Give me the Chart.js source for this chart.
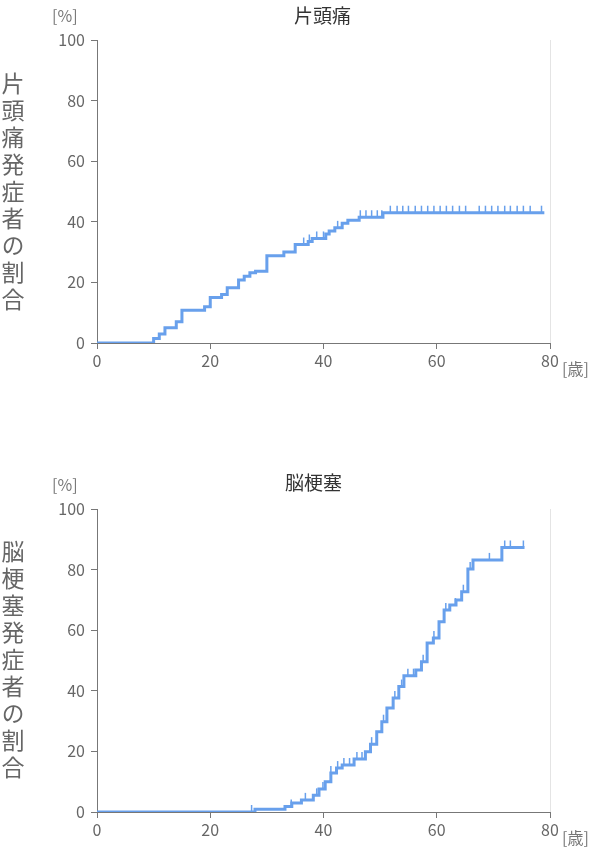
<!DOCTYPE html>
<html>
<head>
<meta charset="utf-8">
<script src="https://cdn.jsdelivr.net/npm/chart.js@4"></script>
<style>
  body { margin: 0; width: 600px; height: 848px; background: #fff; position: relative; font-family: "Noto Sans CJK JP", "Noto Sans", sans-serif; color: #666; }
  .box { position: absolute; left: 0; width: 600px; height: 424px; }
  .t { position: absolute; font-size: 19px; color: #333; }
  .u { position: absolute; font-size: 16px; color: #777; }
  .v { position: absolute; writing-mode: vertical-rl; font-size: 23px; color: #666; letter-spacing: 4px; line-height: 1; }
</style>
</head>
<body>
<div class="box" style="top:0"><canvas id="c1" width="600" height="424"></canvas></div>
<div class="box" style="top:424px"><canvas id="c2" width="600" height="424"></canvas></div>

<div class="t" style="left:294px;top:1px">片頭痛</div>
<div class="u" style="left:52px;top:3px">[%]</div>
<div class="v" style="left:1px;top:72px">片頭痛発症者の割合</div>
<div class="u" style="left:562px;top:356px">[歳]</div>

<div class="t" style="left:285px;top:468px">脳梗塞</div>
<div class="u" style="left:52px;top:472px">[%]</div>
<div class="v" style="left:1px;top:540px">脳梗塞発症者の割合</div>
<div class="u" style="left:562px;top:825px">[歳]</div>

<script>
// 片頭痛: step ages and cumulative %
const migraineAges = [0, 10, 11, 12, 14, 15, 19, 20, 22, 23, 25, 26, 27, 28, 30, 33, 35, 37.3, 38, 40.4, 41, 42, 43.3, 44.3, 46.3, 50.5, 79];
const migraineVals = [0, 1.5, 3, 5, 7, 10.8, 12, 15, 16, 18.2, 20.8, 22, 23.2, 23.7, 28.8, 30, 32.5, 33.5, 34.5, 36, 37, 38, 39.5, 40.5, 41.5, 43, 43];
const migraineCensor = [36.5, 37.5, 38.8, 40, 42.5, 46.5, 47.5, 48.5, 49.5, 50.3, 51.8, 53, 54, 55, 56.2, 57.3, 58.4, 59.5, 60.6, 61.7, 62.8, 64, 65.1, 67.5, 68.6, 69.7, 70.8, 72, 73, 74.2, 75.3, 76.5, 78.5];

// 脳梗塞
const strokeAges = [0, 27.9, 33.2, 34.4, 36.1, 38.2, 39.2, 40.3, 41.3, 42.3, 43.3, 45.4, 47.4, 48.3, 49.4, 50.3, 51.2, 52.3, 53.3, 54.2, 56.3, 57.3, 58.3, 59.4, 60.4, 61.3, 62.3, 63.4, 64.4, 65.5, 66.4, 71.5, 75.5];
const strokeVals = [0, 0.9, 1.8, 3, 4, 5.5, 7.6, 10, 12.9, 14.5, 15.5, 17.5, 19.9, 22.4, 26.5, 29.8, 34.3, 37.6, 41.4, 45, 46.9, 49.6, 55.8, 57.4, 62.8, 66.7, 68.3, 70, 72.7, 80.2, 83.2, 87.3, 87.3];
const strokeCensor = [27.3, 34.3, 36.8, 38.8, 39.9, 41.3, 42.5, 43.6, 44.6, 45.9, 46.8, 48.5, 50.6, 52.6, 53.8, 54.9, 55.9, 57.6, 59.5, 61.6, 63.3, 64.7, 65.9, 69.3, 72, 73, 75.3];

const yTicks = [0, 20, 40, 60, 80, 100];
const xTicks = [0, 20, 40, 60, 80];

const lineColor = '#68a0ec';

function stepAt(ages, vals, x) {
  let v = vals[0];
  for (let i = 0; i < ages.length; i++) if (ages[i] <= x) v = vals[i];
  return v;
}

function makeChart(id, ages, vals, censor, padTop, padBottom) {
  const ctx = document.getElementById(id).getContext('2d');
  return new Chart(ctx, {
    type: 'line',
    data: {
      datasets: [{
        data: ages.map((a, i) => ({ x: a, y: vals[i] })),
        borderColor: lineColor,
        borderWidth: 3,
        stepped: true,
        pointRadius: 0,
        fill: false
      }, {
        data: censor.map(a => ({ x: a, y: stepAt(ages, vals, a) })),
        showLine: false,
        pointStyle: 'dash',
        rotation: -90,
        pointRadius: 7,
        borderColor: lineColor,
        borderWidth: 1.5
      }]
    },
    options: {
      responsive: false,
      animation: false,
      layout: { padding: { top: padTop, right: 50, bottom: padBottom, left: 0 } },
      plugins: { legend: { display: false }, tooltip: { enabled: false } },
      scales: {
        x: {
          type: 'linear', min: 0, max: 80,
          afterBuildTicks: s => { s.ticks = xTicks.map(v => ({ value: v })); },
          afterFit: s => { s.height = 30; },
          grid: { drawOnChartArea: false, color: '#777', tickLength: 6 },
          border: { color: '#777' },
          ticks: { color: '#666', font: { size: 16, family: 'Noto Sans CJK JP' }, padding: 2 }
        },
        y: {
          min: 0, max: 100,
          afterBuildTicks: s => { s.ticks = yTicks.map(v => ({ value: v })); },
          afterFit: s => { s.width = 97; },
          grid: { drawOnChartArea: false, color: '#777', tickLength: 6 },
          border: { color: '#777' },
          ticks: { color: '#666', font: { size: 16, family: 'Noto Sans CJK JP' }, padding: 6 }
        }
      }
    },
    plugins: [{
      id: 'rightEdge',
      beforeDatasetsDraw(chart) {
        const { ctx, chartArea: a } = chart;
        ctx.save();
        ctx.strokeStyle = '#e4e4e4';
        ctx.lineWidth = 1;
        ctx.beginPath();
        ctx.moveTo(a.right + 0.5, a.top);
        ctx.lineTo(a.right + 0.5, a.bottom);
        ctx.stroke();
        ctx.restore();
      }
    }]
  });
}

makeChart('c1', migraineAges, migraineVals, migraineCensor, 40, 51);
makeChart('c2', strokeAges, strokeVals, strokeCensor, 85, 6);
</script>
</body>
</html>
